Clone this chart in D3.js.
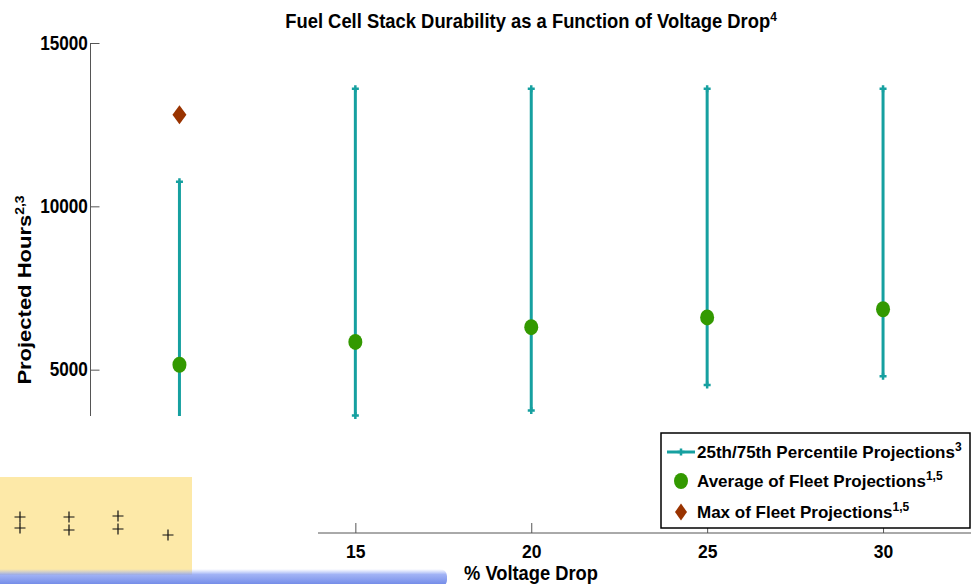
<!DOCTYPE html>
<html>
<head>
<meta charset="utf-8">
<script src="https://cdn.jsdelivr.net/npm/d3@7"></script>
<style>
body{margin:0;background:#fff;}
svg text{font-family:"Liberation Sans",Arial,Helvetica,sans-serif;font-weight:bold;fill:#000;}
</style>
</head>
<body>
<svg id="chart" width="971" height="584"></svg>
<script>
// values
var voltageDrop = [10, 15, 20, 25, 30];
var p75 = [10750, 13600, 13600, 13600, 13600];
var p25 = [2900, 3600, 3750, 4530, 4800];
var fleetAvg = [5150, 5850, 6300, 6600, 6850];
var fleetMaxX = [10];
var fleetMax = [12800];
var yTicks = [5000, 10000, 15000];
var xTicks = [10, 15, 20, 25, 30];
var legendLabels = [
	["25th/75th Percentile Projections", "3"],
	["Average of Fleet Projections", "1,5"],
	["Max of Fleet Projections", "1,5"]
];
// pasted-over decoration in the lower left corner
var overlayCrosses = [[20, 517], [20, 528], [69, 517], [69, 530], [118, 516], [118, 529], [168, 535]];

var teal = '#16a0a0', green = '#339900', brown = '#993300';

var svg = d3.select('#chart');
var x = d3.scaleLinear().domain([7.5, 32.5]).range([91.5, 971]);
var y = d3.scaleLinear().domain([0, 15000]).range([533, 43]);

var defs = svg.append('defs');
var grad = defs.append('linearGradient').attr('id', 'blueBar')
	.attr('x1', 0).attr('y1', 0).attr('x2', 0).attr('y2', 1);
grad.append('stop').attr('offset', '0%').attr('stop-color', '#9db2f7').attr('stop-opacity', 0);
grad.append('stop').attr('offset', '30%').attr('stop-color', '#8aa0f3').attr('stop-opacity', 0.8);
grad.append('stop').attr('offset', '100%').attr('stop-color', '#5d79e2').attr('stop-opacity', 0.95);

//辅助函数：带上标的文字
function supText(sel, main, sup, supSize){
	sel.append('tspan').text(main);
	sel.append('tspan').attr('dy', '-0.55em').style('font-size', supSize + 'px').text(sup);
}

// title
var title = svg.append('text')
	.attr('transform', 'translate(531,28) scale(0.92,1)')
	.attr('text-anchor', 'middle')
	.style('font-size', '20px');
supText(title, 'Fuel Cell Stack Durability as a Function of Voltage Drop', '4', 13);

// y axis
var yAxis = d3.axisLeft(y).tickValues(yTicks).tickSizeInner(-9).tickSizeOuter(0).tickPadding(4).tickFormat(d3.format('d'));
var gy = svg.append('g').attr('transform', 'translate(90.5,0)').call(yAxis);
gy.select('.domain').attr('stroke', '#555').attr('d', 'M0,' + y(15000) + 'V' + y(0));
gy.selectAll('.tick line').attr('stroke', '#555');
gy.selectAll('.tick text').style('font-size', '19.5px').attr('x', -3)
	.attr('transform', 'scale(0.88,1)');

var ylab = svg.append('text')
	.attr('transform', 'translate(31,' + 290 + ') scale(0.86,1) rotate(-90)')
	.attr('text-anchor', 'middle')
	.style('font-size', '22px');
supText(ylab, 'Projected Hours', '2,3', 14);

// x axis
var xAxis = d3.axisBottom(x).tickValues(xTicks).tickSizeInner(-10).tickSizeOuter(0).tickPadding(13);
var gx = svg.append('g').attr('transform', 'translate(0,533)').call(xAxis);
gx.select('.domain').attr('stroke', '#555').attr('d', 'M' + x(7.5) + ',0H971');
gx.selectAll('.tick line').attr('stroke', '#555');
gx.selectAll('.tick text').style('font-size', '17.5px');

svg.append('text')
	.attr('transform', 'translate(531,580) scale(0.94,1)')
	.attr('text-anchor', 'middle')
	.style('font-size', '19.5px')
	.text('% Voltage Drop');

// percentile bars
var bars = svg.append('g').attr('class', 'bars');
bars.selectAll('line.bar').data(voltageDrop).enter().append('line')
	.attr('class', 'bar')
	.attr('x1', function(d){ return x(d); })
	.attr('x2', function(d){ return x(d); })
	.attr('y1', function(d, i){ return y(p75[i]); })
	.attr('y2', function(d, i){ return y(p25[i]); })
	.attr('stroke', teal).attr('stroke-width', 3);

function plusPath(cx, cy, s){
	return 'M' + (cx - s) + ',' + cy + 'H' + (cx + s) + 'M' + cx + ',' + (cy - s) + 'V' + (cy + s);
}
var ends = [];
voltageDrop.forEach(function(d, i){
	ends.push([d, p75[i]]);
	ends.push([d, p25[i]]);
});
bars.selectAll('path.cap').data(ends).enter().append('path')
	.attr('class', 'cap')
	.attr('d', function(d){ return plusPath(x(d[0]), y(d[1]), 3.5); })
	.attr('stroke', teal).attr('stroke-width', 2.5);

// averages
svg.append('g').selectAll('ellipse').data(voltageDrop).enter().append('ellipse')
	.attr('cx', function(d){ return x(d); })
	.attr('cy', function(d, i){ return y(fleetAvg[i]); })
	.attr('rx', 7).attr('ry', 8)
	.attr('fill', green);

// max
function diamond(cx, cy, w, h){
	return 'M' + cx + ',' + (cy - h / 2) + 'L' + (cx + w / 2) + ',' + cy + 'L' + cx + ',' + (cy + h / 2) + 'L' + (cx - w / 2) + ',' + cy + 'Z';
}
svg.append('g').selectAll('path').data(fleetMaxX).enter().append('path')
	.attr('d', function(d, i){ return diamond(x(d), y(fleetMax[i]), 14, 19); })
	.attr('fill', brown);

// legend
var lg = svg.append('g').attr('transform', 'translate(661,433)');
lg.append('rect').attr('width', 309).attr('height', 95)
	.attr('fill', '#fff').attr('stroke', '#000').attr('stroke-width', 1.5);
var rowY = [19, 48, 79];
lg.append('line').attr('x1', 6).attr('x2', 34).attr('y1', rowY[0]).attr('y2', rowY[0])
	.attr('stroke', teal).attr('stroke-width', 3);
lg.append('path').attr('d', plusPath(20, rowY[0], 3.5)).attr('stroke', teal).attr('stroke-width', 2.5);
lg.append('ellipse').attr('cx', 20).attr('cy', rowY[1]).attr('rx', 7).attr('ry', 8).attr('fill', green);
lg.append('path').attr('d', diamond(20, rowY[2], 12, 17)).attr('fill', brown);
legendLabels.forEach(function(l, i){
	var t = lg.append('text').attr('x', 36).attr('y', rowY[i] + 6).style('font-size', '17px');
	supText(t, l[0], l[1], 12);
});

// pasted-over areas (white patch, yellow box, blue bar)
svg.append('rect').attr('x', 0).attr('y', 416).attr('width', 318).attr('height', 168).attr('fill', '#fff');
svg.append('rect').attr('x', 0).attr('y', 477).attr('width', 192).attr('height', 98).attr('fill', '#fde9a8');
svg.append('g').selectAll('path').data(overlayCrosses).enter().append('path')
	.attr('d', function(d){ return plusPath(d[0], d[1], 5.5); })
	.attr('stroke', '#111').attr('stroke-width', 1.2);
svg.append('rect').attr('x', -10).attr('y', 569).attr('width', 457).attr('height', 18).attr('rx', 7)
	.attr('fill', 'url(#blueBar)');
</script>
</body>
</html>
